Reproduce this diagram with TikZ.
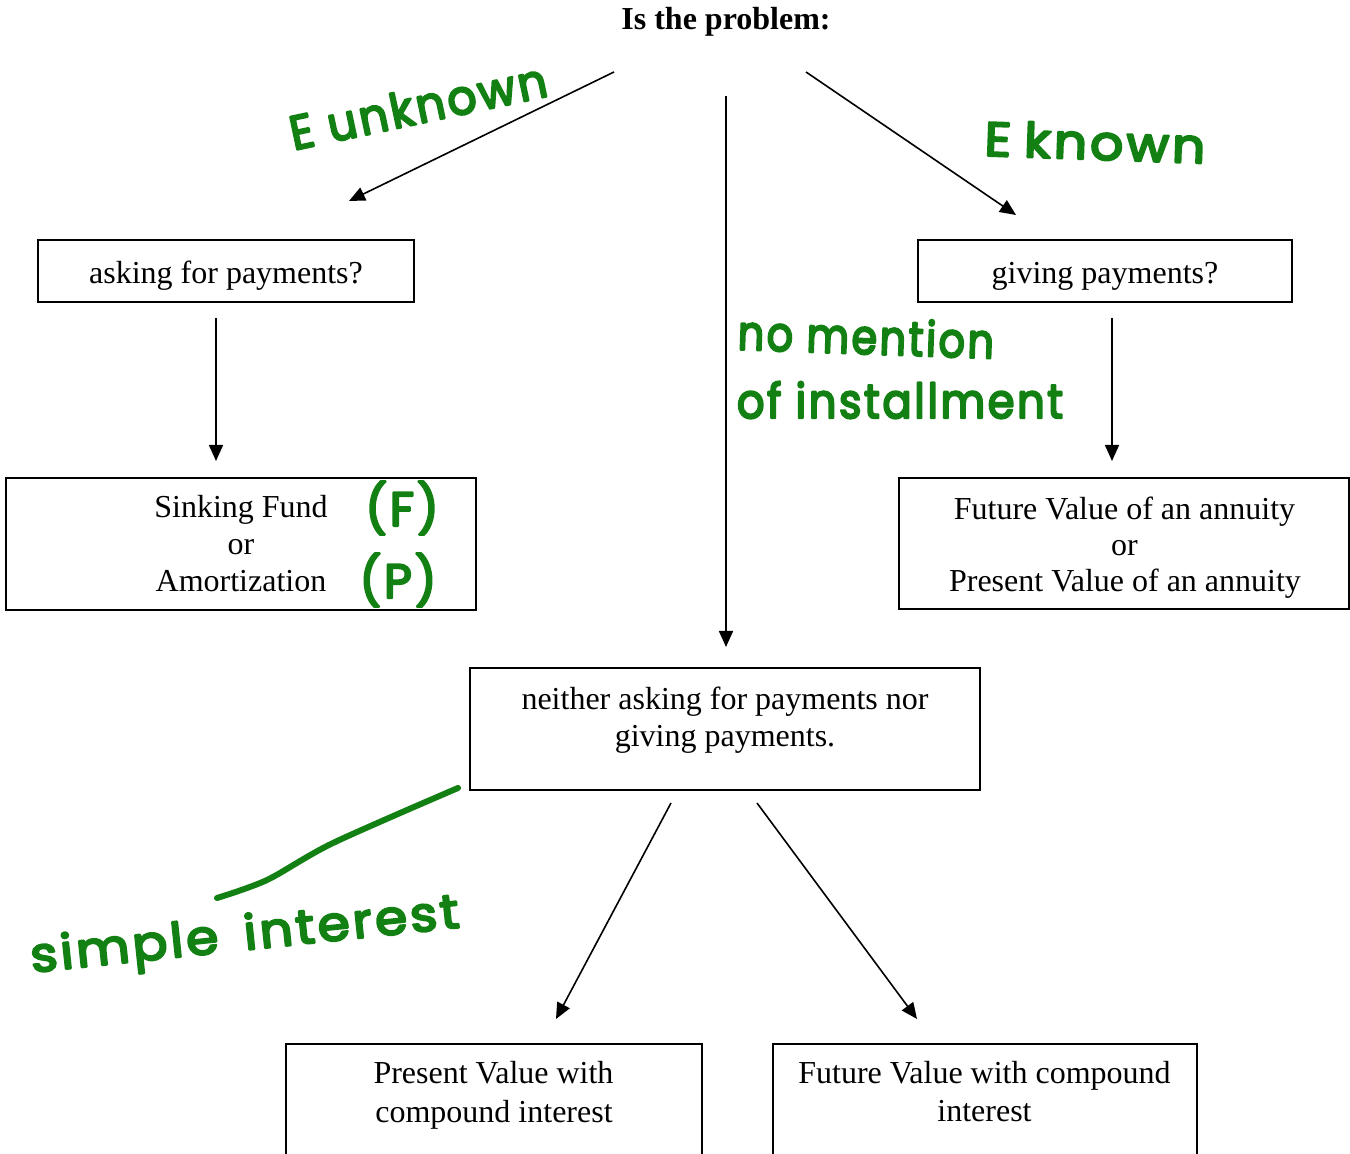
\documentclass[tikz,border=0pt]{standalone}
\usepackage{fontspec}
\setmainfont{Liberation Serif}
\newfontfamily\handfont{Poppins}[LetterSpace=6]
\usetikzlibrary{arrows.meta}
\definecolor{ink}{RGB}{18,128,18}
\newcommand\inkthickon{\special{pdf:literal direct 2 Tr 1.1 w 1 j}}
\newcommand\inkthickoff{\special{pdf:literal direct 0 Tr}}
\tikzset{
  box/.style={draw, line width=1pt, inner sep=0pt},
  txt/.style={anchor=base, inner sep=0pt, font=\fontsize{16}{18.5}\selectfont},
  conn/.style={line width=0.8pt, -{Triangle[length=8pt,width=7pt]}},
  hand/.style={text=ink, inner sep=0pt, font=\handfont\fontsize{24}{28}\selectfont,
    execute at begin node=\inkthickon, execute at end node=\inkthickoff},
  stroke/.style={draw=ink, line width=3pt, line cap=round, line join=round}
}
\begin{document}
\begin{tikzpicture}[x=0.5pt,y=-0.5pt]
\useasboundingbox (0,0) rectangle (1350,1154);
\clip (0,0) rectangle (1350,1154);

% boxes
\node[box, minimum width=188pt, minimum height=31pt] (ask) at (226,271) {};
\node[box, minimum width=187pt, minimum height=31pt] (give) at (1105,271) {};
\node[box, minimum width=235pt, minimum height=66pt] (sf) at (241,544) {};
\node[box, minimum width=225pt, minimum height=65.5pt] (fva) at (1124,543.5) {};
\node[box, minimum width=255pt, minimum height=61pt] (nei) at (725,729) {};
\node[box, minimum width=208pt, minimum height=73pt] (pvc) at (493.5,1116.5) {};
\node[box, minimum width=212pt, minimum height=73pt] (fvc) at (985,1116.5) {};

% texts
\node[txt] (title) at (726,30) {\bfseries Is the problem:};
\node[txt] (askT) at (226,284) {asking for payments?};
\node[txt] (giveT) at (1105,284) {giving payments?};
\node[txt] (sf1) at (241,518) {Sinking Fund};
\node[txt] (sf2) at (241,555) {or};
\node[txt] (sf3) at (241,592) {Amortization};
\node[txt] (fva1) at (1124.5,520) {Future Value of an annuity};
\node[txt] (fva2) at (1124.5,556) {or};
\node[txt] (fva3) at (1125,592) {Present Value of an annuity};
\node[txt] (nei1) at (725,710) {neither asking for payments nor};
\node[txt] (nei2) at (725,747) {giving payments.};
\node[txt] (pvc1) at (493.5,1083) {Present Value with};
\node[txt] (pvc2) at (494,1122) {compound interest};
\node[txt] (fvc1) at (984.5,1083) {Future Value with compound};
\node[txt] (fvc2) at (984.5,1121) {interest};

% connector ends
\coordinate (a1s) at (614,72);   \coordinate (a1e) at (349,201);
\coordinate (a2s) at (726,96);   \coordinate (a2e) at (726,647);
\coordinate (a3s) at (806,72);   \coordinate (a3e) at (1016,215);
\coordinate (a4s) at (216,318);  \coordinate (a4e) at (216,461);
\coordinate (a5s) at (1112,318); \coordinate (a5e) at (1112,461);
\coordinate (a6s) at (671,803);  \coordinate (a6e) at (556,1019);
\coordinate (a7s) at (757,803);  \coordinate (a7e) at (917,1019);

\draw[conn] (a1s) -- (a1e);
\draw[conn] (a2s) -- (a2e);
\draw[conn] (a3s) -- (a3e);
\draw[conn] (a4s) -- (a4e);
\draw[conn] (a5s) -- (a5e);
\draw[conn] (a6s) -- (a6e);
\draw[conn] (a7s) -- (a7e);

% handwritten notes
\node[hand, rotate=12, xscale=0.95] (eunk) at (418,106) {E unknown};
\node[hand, rotate=-2, xscale=1.08] (ekn) at (1095,142) {E\hspace{6pt}known};
\node[hand, rotate=-2, xscale=0.86] (nom) at (866,336) {no mention};
\node[hand, xscale=0.9] (inst) at (900,400) {of installment};
\node[hand] (pf) at (402,508) {(F)};
\node[hand] (pp) at (398,580) {(P)};
\node[hand, rotate=6, xscale=1.08] (simp) at (245,938) {simple\hspace{12pt}interest};
\draw[stroke] plot[smooth] coordinates {(217,898) (267,880) (333,843) (458,788)};
\end{tikzpicture}
\end{document}
